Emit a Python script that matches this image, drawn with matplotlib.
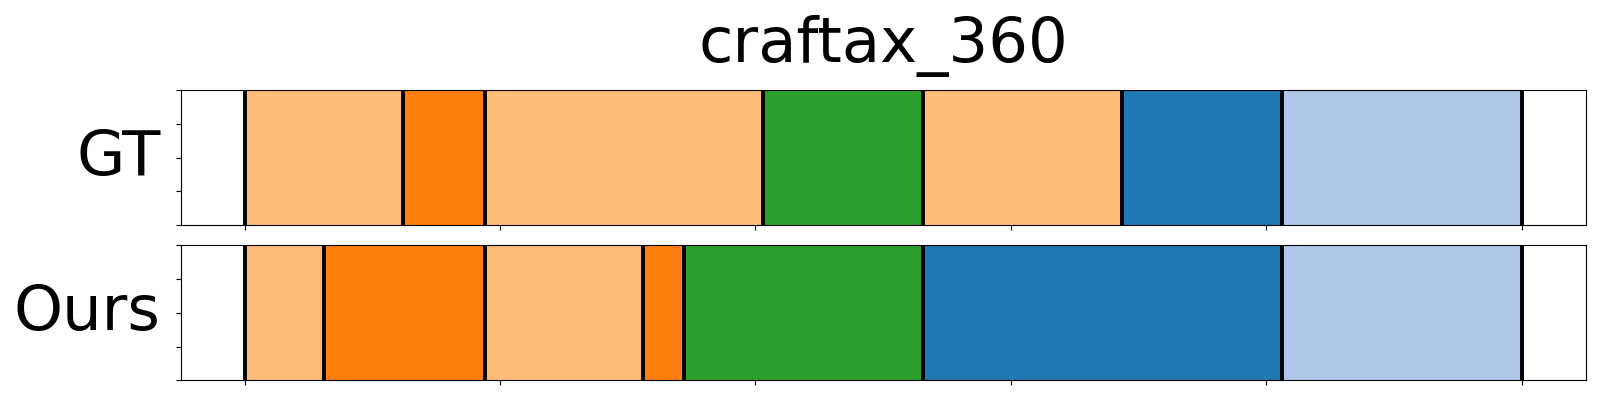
import matplotlib
matplotlib.use("Agg")
import matplotlib.pyplot as plt
import numpy as np

title = "craftax_360"
row_labels = ["GT", "Ours"]

# segment boundaries (frame index) and segment colors for each row
gt_bounds = [0, 31, 47, 101.5, 132.7, 171.8, 203, 250]
gt_colors = ["#ffbb78", "#ff7f0e", "#ffbb78", "#2ca02c", "#ffbb78", "#1f77b4", "#aec7e8"]
ours_bounds = [0, 15.5, 47, 78, 86, 132.7, 203, 250]
ours_colors = ["#ffbb78", "#ff7f0e", "#ffbb78", "#ff7f0e", "#2ca02c", "#1f77b4", "#aec7e8"]

rows = [(gt_bounds, gt_colors), (ours_bounds, ours_colors)]

fig = plt.figure(figsize=(16, 4), dpi=100)
ax_top = fig.add_axes([0.113, 0.4375, 0.878, 0.337])
ax_bot = fig.add_axes([0.113, 0.049, 0.878, 0.338])
axes = [ax_top, ax_bot]

for ax, (bounds, colors), lab in zip(axes, rows, row_labels):
    starts = np.array(bounds[:-1])
    widths = np.diff(bounds)
    ax.barh(0.5, widths, left=starts, height=1.0, color=colors,
            edgecolor=colors, linewidth=0.8)
    for b in bounds:
        ax.axvline(b, color="black", linewidth=2.8)
    ax.set_ylim(0, 1)
    ax.set_xlim(-12.5, 262.5)
    ax.set_yticks(np.linspace(0, 1, 5))
    ax.set_yticklabels([])
    ax.set_xticks(np.arange(0, 251, 50))
    ax.set_xticklabels([])
    ax.set_ylabel(lab, fontsize=45, rotation=0, ha="right", va="center")
    ax.yaxis.set_label_coords(-0.0145, 0.5)

ax_top.set_title(title, fontsize=45, pad=20)

fig.savefig("out.png", dpi=100)
